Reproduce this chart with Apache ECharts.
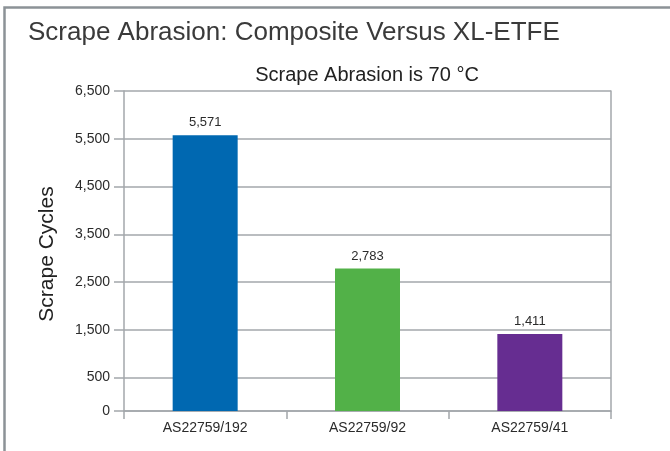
<!DOCTYPE html>
<html>
<head>
<meta charset="utf-8">
<script src="https://cdn.jsdelivr.net/npm/echarts@6/dist/echarts.min.js"></script>
<style>
  html, body { margin: 0; padding: 0; background: #fff; }
  #chart { width: 670px; height: 451px; }
</style>
</head>
<body>
<div id="chart"></div>
<script>
// Scrape cycles per cable construction at 70 °C
const categories = ['AS22759/192', 'AS22759/92', 'AS22759/41'];
const scrapeCycles = [5571, 2783, 1411];
const barColors = ['#0068b1', '#52b148', '#662d91'];

// Value-axis ticks: the lowest tick marks the baseline and reads "0"
const yTickValues = [-200, 500, 1500, 2500, 3500, 4500, 5500, 6500];
const yTickLabels = ['0', '500', '1,500', '2,500', '3,500', '4,500', '5,500', '6,500'];

const gridColor = '#a3a7ab';
const textColor = '#2b2b2b';
const font = 'Liberation Sans, Arial, Helvetica, sans-serif';

const chart = echarts.init(document.getElementById('chart'), null, { renderer: 'canvas' });

chart.setOption({
  animation: false,
  backgroundColor: '#fff',
  textStyle: { fontFamily: font },
  graphic: [{
    type: 'rect',
    shape: { x: 4.5, y: 7.5, width: 720, height: 500 },
    style: { fill: null, stroke: '#8c9297', lineWidth: 2.5 },
    silent: true
  }],
  title: [{
    text: 'Scrape Abrasion: Composite Versus XL-ETFE',
    left: 23,
    top: 15,
    textStyle: { fontSize: 26, fontWeight: 'normal', color: '#3a3a3a', fontFamily: font }
  }, {
    text: 'Scrape Abrasion is 70 °C',
    left: 362,
    top: 60,
    textAlign: 'center',
    textStyle: { fontSize: 20, fontWeight: 'normal', color: '#222', fontFamily: font }
  }],
  grid: { left: 124, right: 59, top: 91, bottom: 40, containLabel: false },
  xAxis: {
    type: 'category',
    data: categories,
    axisLine: { onZero: false, lineStyle: { color: gridColor, width: 1.5 } },
    axisTick: { show: true, length: 8, lineStyle: { color: gridColor, width: 1.5 } },
    axisLabel: { color: textColor, fontSize: 14, margin: 10, fontFamily: font },
    splitLine: { show: false }
  },
  yAxis: [{
    type: 'value',
    min: -200,
    max: 6500,
    startValue: -200,
    name: 'Scrape Cycles',
    nameLocation: 'middle',
    nameGap: 66,
    nameTextStyle: { fontSize: 21, color: '#222', fontFamily: font, padding: [0, 6, 0, 0] },
    axisLine: { show: true, lineStyle: { color: gridColor, width: 1.5 } },
    axisTick: {
      show: true, length: 10, customValues: yTickValues,
      lineStyle: { color: gridColor, width: 1.5 }
    },
    axisLabel: {
      color: textColor, fontSize: 14, margin: 14, fontFamily: font,
      customValues: yTickValues,
      formatter: (v) => yTickLabels[yTickValues.indexOf(v)]
    },
    splitLine: { show: true, lineStyle: { color: gridColor, width: 1.5 } }
  }, {
    type: 'value',
    position: 'right',
    min: -200,
    max: 6500,
    axisLine: { show: true, lineStyle: { color: gridColor, width: 1.5 } },
    axisTick: { show: false },
    axisLabel: { show: false },
    splitLine: { show: false }
  }],
  series: [{
    type: 'bar',
    yAxisIndex: 0,
    barWidth: 65,
    data: scrapeCycles.map((v, i) => ({ value: v, itemStyle: { color: barColors[i] } })),
    label: {
      show: true,
      position: 'top',
      distance: 6,
      color: textColor,
      fontSize: 13,
      fontFamily: font,
      formatter: (p) => p.value.toLocaleString('en-US')
    }
  }]
});
</script>
</body>
</html>
